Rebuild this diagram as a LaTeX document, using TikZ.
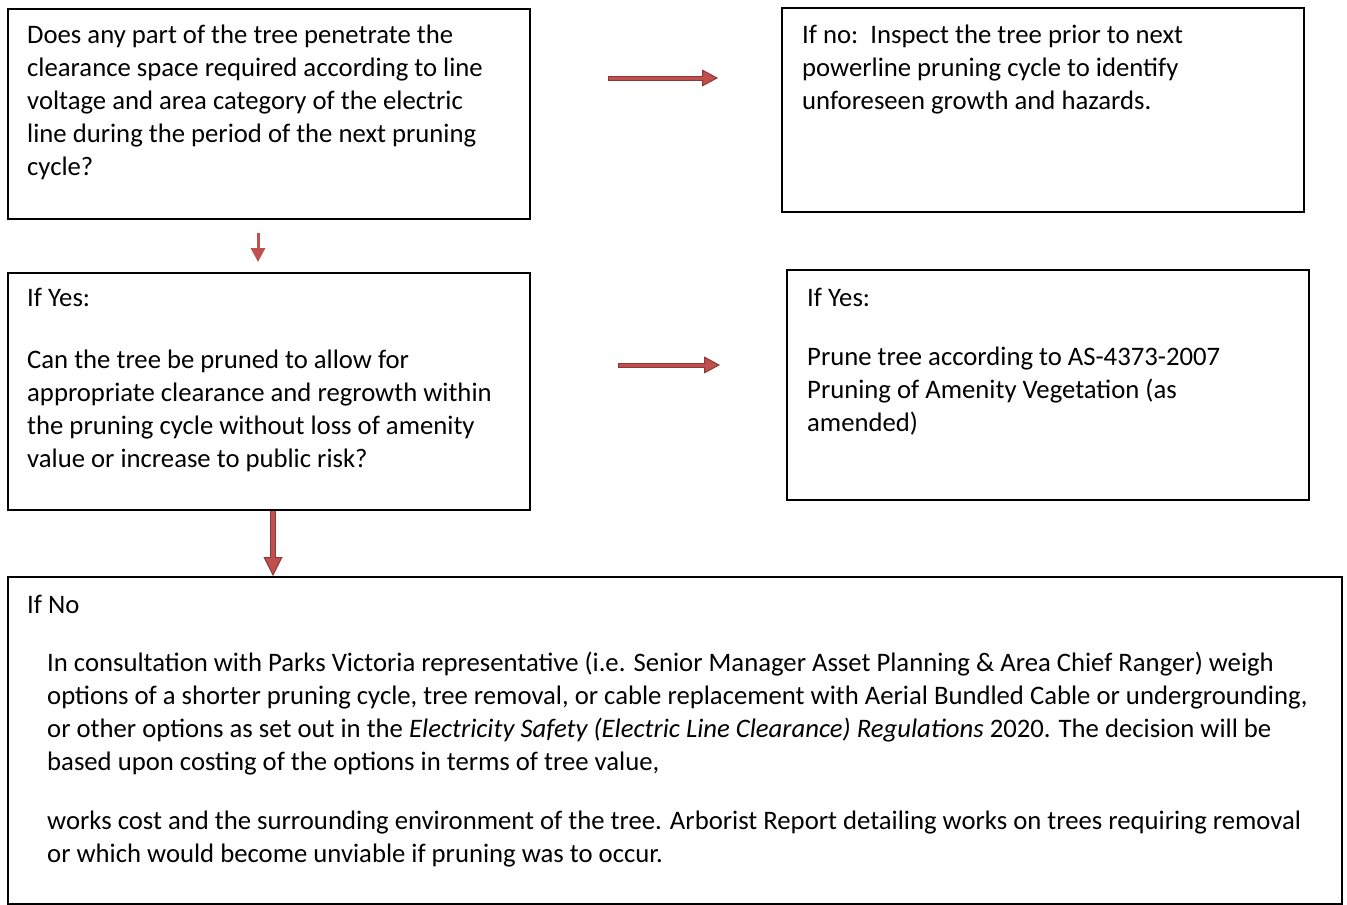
\documentclass[tikz,border=0pt]{standalone}
\usepackage{fontspec}
\setmainfont{Carlito}
\usetikzlibrary{arrows.meta}
\definecolor{arrowred}{HTML}{C0504D}
\definecolor{arrowline}{HTML}{8C3836}

\begin{document}
\begin{tikzpicture}[x=1pt,y=-1pt,
			box/.style={
				draw,
				line width=1.6pt,
				anchor=north west,
				inner sep=0pt
			},
			txt/.style={
				anchor=north west,
				align=left,
				inner sep=0pt,
				font=\fontsize{26.7}{33}\selectfont
			},
			blockarrow/.style={
				draw=arrowline,
				line width=5pt,
				-{Triangle[width=17pt,length=16pt,fill=arrowred,line width=1pt]},
				postaction={draw=arrowred, line width=3pt, -, shorten >=14pt, shorten <=1pt}
			},
			bigarrow/.style={
				draw=arrowline,
				line width=6pt,
				-{Triangle[width=19pt,length=19pt,fill=arrowred,line width=1pt]},
				postaction={draw=arrowred, line width=4pt, -, shorten >=17pt, shorten <=0pt}
			},
			thinarrow/.style={
				draw=arrowred,
				line width=3pt,
				-{Triangle[width=14pt,length=14pt]}
			}
			]
			\useasboundingbox (0,0) rectangle (1347,905);
			% boxes
			\node[box, minimum width=522pt, minimum height=210pt] (q1) at (7,8) {};
			\node[box, minimum width=522pt, minimum height=204pt] (n1) at (781,7) {};
			\node[box, minimum width=522pt, minimum height=237pt] (q2) at (7,272) {};
			\node[box, minimum width=522pt, minimum height=230pt] (y2) at (786,269) {};
			\node[box, minimum width=1334pt, minimum height=327pt] (nb) at (7,576) {};
			% texts
			\node[txt] (q1t) at (27,19.9) {\strut Does any part of the tree penetrate the\\
				clearance space required according to line\\
				voltage and area category of the electric\\
				line during the period of the next pruning\\
				cycle?};
			\node[txt] (n1t) at (802,19.9) {\strut If no:\ \ Inspect the tree prior to next\\
				powerline pruning cycle to identify\\
				unforeseen growth and hazards.};
			\node[txt] (q2t) at (27,282.9) {\strut If Yes:\\[29pt]
				Can the tree be pruned to allow for\\
				appropriate clearance and regrowth within\\
				the pruning cycle without loss of amenity\\
				value or increase to public risk?};
			\node[txt] (y2t) at (807,282.9) {\strut If Yes:\\[26pt]
				Prune tree according to AS-4373-2007\\
				Pruning of Amenity Vegetation (as\\
				amended)};
			\node[txt] (nbt) at (27,589.9) {\strut If No};
			\node[txt] (nbp) at (47,647.9) {\strut In consultation with Parks Victoria representative (i.e. Senior Manager Asset Planning \& Area Chief Ranger) weigh\\
				options of a shorter pruning cycle, tree removal, or cable replacement with Aerial Bundled Cable or undergrounding,\\
				or other options as set out in the \textit{Electricity Safety (Electric Line Clearance) Regulations} 2020. The decision will be\\
				based upon costing of the options in terms of tree value,\\[26pt]
				works cost and the surrounding environment of the tree. Arborist Report detailing works on trees requiring removal\\
				or which would become unviable if pruning was to occur.};
			% arrows
			\coordinate (a1s) at (608,78);
			\coordinate (a1e) at (718,78);
			\coordinate (a2s) at (618,365);
			\coordinate (a2e) at (720,365);
			\coordinate (a3s) at (258,233);
			\coordinate (a3e) at (258,262);
			\coordinate (a4x) at (273,0);
			\draw[blockarrow] (a1s) -- (a1e);
			\draw[blockarrow] (a2s) -- (a2e);
			\draw[thinarrow] (a3s) -- (a3e);
			\draw[bigarrow] (q2.south -| a4x) -- (nb.north -| a4x);
		\end{tikzpicture}
\end{document}
